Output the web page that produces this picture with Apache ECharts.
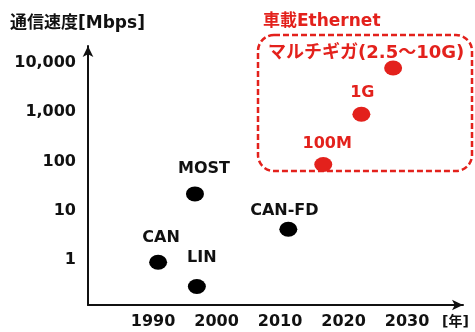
<!DOCTYPE html>
<html>
<head>
<meta charset="utf-8">
<script src="https://cdn.jsdelivr.net/npm/echarts@6/dist/echarts.min.js"></script>
<style>
	html, body { margin: 0; padding: 0; background: #fff; }
	#chart { width: 475px; height: 332px; }
</style>
</head>
<body>
<div id="chart"></div>
<script>
	// 既存の車載ネットワーク
	var legacyNames = ['CAN', 'MOST', 'LIN', 'CAN-FD'];
	var legacyYears = [1990.8, 1996.6, 1996.9, 2011.3];
	var legacySpeeds = [0.9, 22, 0.29, 4.2];

	// 車載Ethernet
	var etherNames = ['100M', '1G', 'マルチギガ(2.5～10G)'];
	var etherYears = [2016.8, 2022.8, 2027.8];
	var etherSpeeds = [87, 910, 7900];

	var xTickValues = [1990, 2000, 2010, 2020, 2030];
	var yTickValues = [1, 10, 100, 1000, 10000];
	var yTickLabels = ['1', '10', '100', '1,000', '10,000'];

	var FONT = 'DejaVu Sans, "Noto Sans CJK JP", sans-serif';
	var RED = '#e3211c';

	// ラベル位置（点の中心からのずれ）
	var labelOffset = {
		'CAN': [3, -24],
		'MOST': [9, -25],
		'LIN': [5, -29],
		'CAN-FD': [-4, -18],
		'100M': [4, -21],
		'1G': [1, -21],
		'マルチギガ(2.5～10G)': [-27, -15]
	};

	function makeData(names, xs, ys) {
		return names.map(function(n, i) {
			var d = {
				name: n,
				value: [xs[i], ys[i]],
				label: { offset: labelOffset[n] }
			};
			if (n.length > 8) d.label.fontSize = 18;
			return d;
		});
	}

	var myChart = echarts.init(document.getElementById('chart'));
	var option = {
		animation: false,
		textStyle: { fontFamily: FONT },
		grid: { left: 88, right: 12, top: 46, bottom: 27 },
		xAxis: {
			type: 'value',
			min: 1979.76,
			max: 2038.8,
			splitLine: { show: false },
			axisTick: { show: false },
			axisLine: {
				symbol: ['none', 'arrow'],
				symbolSize: [8, 11],
				lineStyle: { color: '#111', width: 2 }
			},
			axisLabel: {
				customValues: xTickValues,
				color: '#111',
				fontFamily: FONT,
				fontWeight: 'bold',
				fontSize: 16,
				margin: 9,
				formatter: function(v) {
					return String(v);
				}
			}
		},
		yAxis: {
			type: 'log',
			logBase: 10,
			min: 0.122,
			max: 22130,
			splitLine: { show: false },
			axisTick: { show: false },
			axisLine: {
				symbol: ['none', 'arrow'],
				symbolSize: [8, 11],
				lineStyle: { color: '#111', width: 2 }
			},
			axisLabel: {
				customValues: yTickValues,
				color: '#111',
				fontFamily: FONT,
				fontWeight: 'bold',
				fontSize: 16,
				margin: 12,
				formatter: function(v) {
					var i = yTickValues.indexOf(v);
					return i >= 0 ? yTickLabels[i] : '';
				}
			}
		},
		series: [{
				type: 'scatter',
				symbol: 'circle',
				symbolSize: [18, 15],
				itemStyle: { color: '#000', opacity: 1 },
				label: {
					show: true,
					position: 'inside',
					formatter: '{b}',
					color: '#111',
					fontFamily: FONT,
					fontWeight: 'bold',
					fontSize: 16
				},
				data: makeData(legacyNames, legacyYears, legacySpeeds)
			},
			{
				type: 'scatter',
				symbol: 'circle',
				symbolSize: [18, 15],
				itemStyle: { color: RED, opacity: 1 },
				label: {
					show: true,
					position: 'inside',
					formatter: '{b}',
					color: RED,
					fontFamily: FONT,
					fontWeight: 'bold',
					fontSize: 16
				},
				data: makeData(etherNames, etherYears, etherSpeeds)
			}
		],
		graphic: [{
				type: 'text',
				left: 10,
				top: 15,
				style: {
					text: '通信速度[Mbps]',
					fill: '#111',
					font: 'bold 17px ' + FONT
				}
			},
			{
				type: 'text',
				left: 263,
				top: 13,
				style: {
					text: '車載Ethernet',
					fill: RED,
					font: 'bold 17px ' + FONT
				}
			},
			{
				type: 'rect',
				shape: { x: 258, y: 35, width: 214, height: 136, r: 16 },
				style: {
					fill: 'none',
					stroke: RED,
					lineWidth: 2.5,
					lineDash: [6, 3]
				}
			},
			{
				type: 'text',
				left: 442,
				top: 315,
				style: {
					text: '[年]',
					fill: '#111',
					font: 'bold 14px ' + FONT
				}
			}
		]
	};
	myChart.setOption(option);
</script>
</body>
</html>
